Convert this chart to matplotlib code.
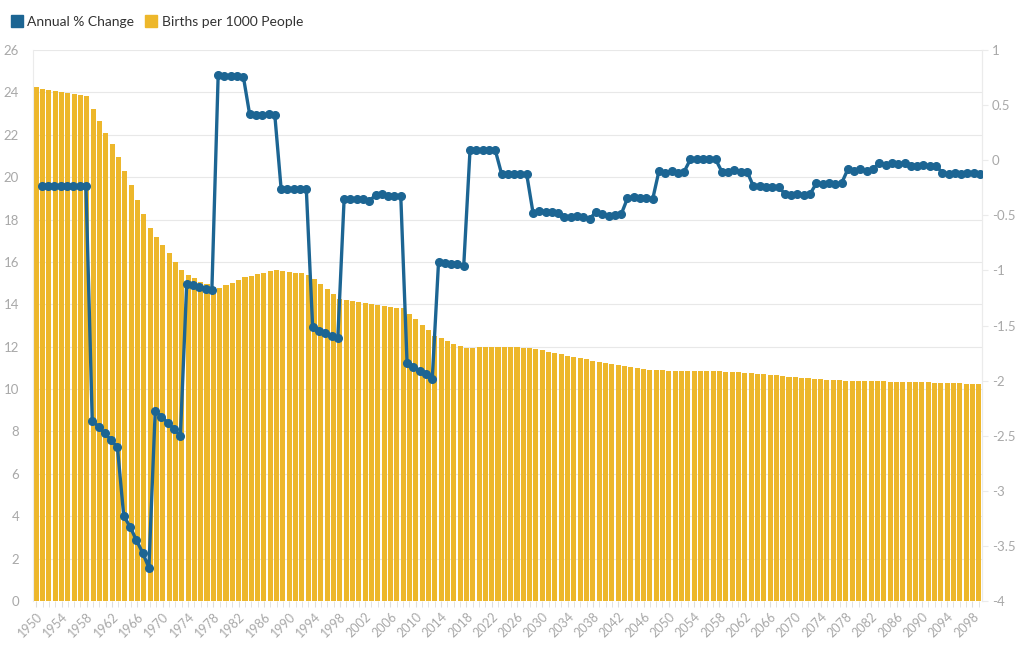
import numpy as np
import matplotlib
matplotlib.use("Agg")
import matplotlib.pyplot as plt
from matplotlib.lines import Line2D
from matplotlib.ticker import FuncFormatter, MultipleLocator

plt.rcParams['font.family'] = ['Lato', 'DejaVu Sans']

years = list(range(1950, 2100))

# births per 1000 people (left axis)
births = [
    24.24, 24.18, 24.13, 24.08, 24.04, 23.99, 23.93, 23.89, 23.81, 23.22,
    22.65, 22.10, 21.55, 20.97, 20.31, 19.63, 18.92, 18.26, 17.59, 17.19,
    16.79, 16.41, 16.00, 15.60, 15.38, 15.23, 15.07, 14.96, 14.83, 14.79,
    14.90, 15.02, 15.15, 15.27, 15.34, 15.42, 15.49, 15.56, 15.60, 15.57,
    15.53, 15.49, 15.46, 15.40, 15.18, 14.96, 14.71, 14.47, 14.27, 14.20,
    14.14, 14.10, 14.05, 14.00, 13.95, 13.92, 13.87, 13.84, 13.81, 13.54,
    13.29, 13.02, 12.77, 12.52, 12.41, 12.27, 12.14, 12.05, 11.94, 11.95,
    11.97, 11.97, 11.99, 11.99, 11.97, 11.97, 11.97, 11.95, 11.92, 11.88,
    11.83, 11.77, 11.71, 11.64, 11.58, 11.52, 11.46, 11.40, 11.34, 11.28,
    11.22, 11.17, 11.12, 11.07, 11.03, 10.99, 10.95, 10.92, 10.90, 10.88,
    10.87, 10.86, 10.85, 10.85, 10.85, 10.85, 10.85, 10.85, 10.84, 10.83,
    10.82, 10.80, 10.78, 10.76, 10.73, 10.71, 10.68, 10.65, 10.62, 10.59,
    10.56, 10.53, 10.50, 10.48, 10.46, 10.44, 10.42, 10.41, 10.40, 10.39,
    10.38, 10.37, 10.37, 10.36, 10.36, 10.35, 10.35, 10.34, 10.34, 10.33,
    10.33, 10.32, 10.31, 10.30, 10.29, 10.28, 10.27, 10.26, 10.25, 10.24,
]

# annual % change (right axis)
change = [
    -0.234, -0.234, -0.234, -0.234, -0.234, -0.234, -0.234, -0.234,
    -2.364, -2.418, -2.478, -2.539, -2.605,
    -3.226, -3.326, -3.446, -3.562, -3.698,
    -2.276, -2.327, -2.382, -2.439, -2.503,
    -1.126, -1.135, -1.152, -1.167, -1.178,
    0.773, 0.767, 0.767, 0.761, 0.758,
    0.416, 0.410, 0.407, 0.416, 0.407,
    -0.261, -0.261, -0.261, -0.261, -0.264,
    -1.511, -1.547, -1.571, -1.595, -1.616,
    -0.355, -0.355, -0.349, -0.355, -0.370,
    -0.316, -0.310, -0.322, -0.325, -0.325,
    -1.843, -1.874, -1.910, -1.943, -1.985,
    -0.921, -0.930, -0.942, -0.945, -0.957,
    0.095, 0.093, 0.093, 0.093, 0.093,
    -0.122, -0.124, -0.124, -0.126, -0.128,
    -0.476, -0.458, -0.467, -0.470, -0.482,
    -0.518, -0.518, -0.504, -0.518, -0.531,
    -0.470, -0.488, -0.504, -0.495, -0.491,
    -0.346, -0.331, -0.340, -0.346, -0.355,
    -0.098, -0.113, -0.098, -0.113, -0.104,
    0.008, 0.008, 0.008, 0.008, 0.008,
    -0.104, -0.104, -0.089, -0.104, -0.104,
    -0.235, -0.235, -0.240, -0.240, -0.240,
    -0.306, -0.318, -0.306, -0.318, -0.306,
    -0.210, -0.220, -0.210, -0.220, -0.210,
    -0.082, -0.096, -0.082, -0.096, -0.082,
    -0.025, -0.041, -0.025, -0.034, -0.025,
    -0.051, -0.051, -0.043, -0.051, -0.051,
    -0.112, -0.127, -0.112, -0.127, -0.112,
    -0.112, -0.127,
]

bar_color = '#EDB72B'
line_color = '#1C6593'
grey = '#A8A8A8'
grid_color = '#E8E8E8'

rect = [0.0324, 0.0754, 0.9303, 0.8476]
fig = plt.figure(figsize=(10.2, 6.5), dpi=100)
ax = fig.add_axes(rect)

ax.bar(years, births, width=0.8, color=bar_color, zorder=2)
ax.set_xlim(1949.5, 2099.5)
ax.set_ylim(0, 26)
ax.yaxis.set_major_locator(MultipleLocator(2))
ax.grid(axis='y', color=grid_color, linewidth=0.8, zorder=0)
ax.set_axisbelow(True)

ax.set_xticks(years, minor=True)
ax.set_xticks(years[::4])
ax.set_xticklabels([str(y) for y in years[::4]], rotation=45, ha='right',
                   rotation_mode='anchor', color=grey, fontsize=9)
ax.tick_params(axis='x', which='both', length=4, color='#DDDDDD', pad=3)
ax.tick_params(axis='y', length=0, labelcolor=grey, labelsize=9.5, pad=10)

for side in ['top', 'bottom']:
    ax.spines[side].set_visible(False)
for side in ['left', 'right']:
    ax.spines[side].set_color('#EBEBEB')

# line series sits on its own category scale, slightly inset from the bars
ax2 = fig.add_axes(rect)
ax2.patch.set_visible(False)
ax2.plot(years, change, color=line_color, linewidth=2.4, marker='o',
         markersize=5.5, zorder=3)
ax2.set_xlim(1948.6, 2099.3)
ax2.set_ylim(-4, 1)
ax2.xaxis.set_visible(False)
ax2.yaxis.tick_right()
ax2.yaxis.set_major_locator(MultipleLocator(0.5))
ax2.yaxis.set_major_formatter(FuncFormatter(lambda v, p: f'{v:g}'))
ax2.tick_params(axis='y', length=4, color='#EBEBEB', labelcolor=grey,
                labelsize=9.5, pad=3)
for side in ['top', 'bottom', 'left']:
    ax2.spines[side].set_visible(False)
ax2.spines['right'].set_color('#EBEBEB')

handles = [
    Line2D([], [], marker='s', linestyle='', markersize=9, color=line_color),
    Line2D([], [], marker='s', linestyle='', markersize=9, color=bar_color),
]
fig.legend(handles, ['Annual % Change', 'Births per 1000 People'],
           loc='upper left', bbox_to_anchor=(-0.001, 0.995), ncol=2,
           frameon=False, fontsize=10, handlelength=0.8, handletextpad=0.35,
           columnspacing=0.8, labelcolor='#333333')

fig.savefig('out.png', dpi=100)
